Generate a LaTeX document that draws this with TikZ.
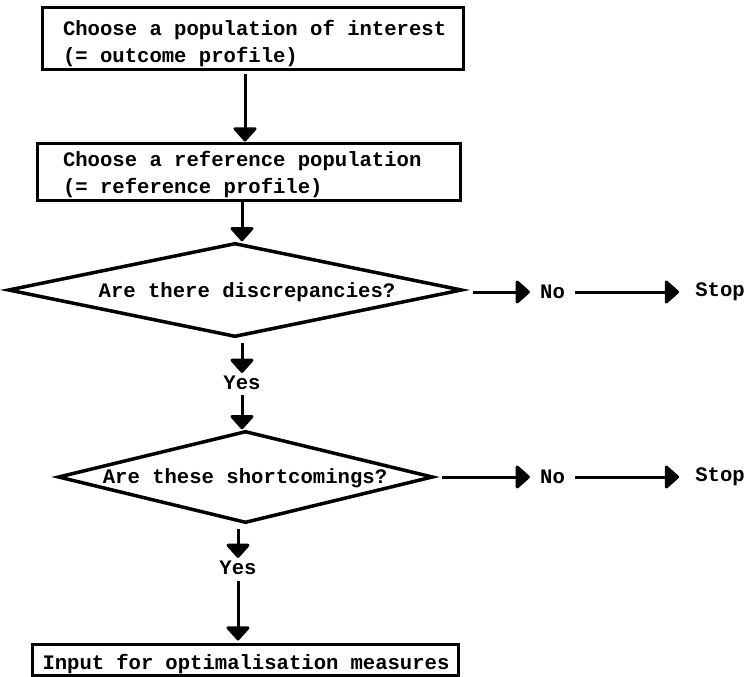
\documentclass[tikz,border=0pt]{standalone}
\usepackage{fontspec}
\setmainfont{Liberation Mono}
\usetikzlibrary{arrows.meta,shapes.geometric}
\begin{document}
\begin{tikzpicture}[x=1pt,y=-1pt,
  every node/.style={font=\fontsize{20.6}{27}\selectfont\bfseries},
  boxnode/.style={draw, line width=3pt, rectangle, align=left, inner xsep=10.5pt, inner ysep=0pt},
  dia/.style={draw, line width=3.5pt, diamond, inner sep=0pt},
  lbl/.style={inner xsep=10pt, inner ysep=3pt},
  stopl/.style={inner xsep=16pt, inner ysep=3pt},
  arr/.style={line width=3pt, -{Triangle[width=26pt,length=15pt,round]}}]
\useasboundingbox (0,0) rectangle (745,677);
\fill[white] (0,0) rectangle (745,677);

\node[boxnode, text width=400pt, minimum height=62pt] (b1) at (252.5,39)
  {\spaceskip=0pt\xspaceskip=0pt\rule{0pt}{25pt}\hspace*{10.5pt}Choose a population of interest\\\hspace*{10.5pt}(= outcome profile)};
\node[boxnode, text width=402pt, minimum height=57pt] (b2) at (248.5,171.5)
  {\spaceskip=0pt\xspaceskip=0pt\rule{0pt}{21pt}\hspace*{15.5pt}Choose a reference population\\\hspace*{15.5pt}(= reference profile)};
\node[boxnode, text width=409pt, inner xsep=8.5pt, minimum height=31pt] (b3) at (245,659.5)
  {\spaceskip=0pt\xspaceskip=0pt\rule{0pt}{24pt}\hspace*{2pt}Input for optimalisation measures};

\node[dia, minimum width=454pt, minimum height=94pt] (d1) at (235,290) {};
\node (t1) at (247,292) {Are there discrepancies?};
\node[dia, minimum width=375pt, minimum height=92pt] (d2) at (245.5,477) {};
\node (t2) at (245,478) {Are these shortcomings?};

\node[lbl] (y1) at (242,383) {Yes};
\node[lbl] (y2) at (238,568) {Yes};
\node[lbl] (n1) at (552.5,292) {No};
\node[stopl] (s1) at (720,292) {Stop};
\node[lbl] (n2) at (552.5,477) {No};
\node[stopl] (s2) at (720,477) {Stop};

\coordinate (a1) at (245,0);
\coordinate (a2) at (242,0);
\coordinate (a3) at (238,0);

\draw[arr, shorten <=3pt] (b1.south -| a1) -- (b2.north -| a1);
\draw[arr] (b2.south -| a2) -- (d1.north -| a2);
\draw[arr, shorten <=4pt] (d1.south -| a2) -- (y1.north);
\draw[arr, shorten <=2pt] (y1.south) -- (d2.north -| y1.south);
\draw[arr, shorten <=4pt] (d2.south -| a3) -- (y2.north);
\draw[arr, shorten <=3pt, shorten >=2pt] (y2.south) -- (b3.north -| y2.south);

\draw[arr, shorten <=9pt] (d1.east |- n1.west) -- (n1.west);
\draw[arr] (n1.east) -- (s1.west);
\draw[arr, shorten <=7pt] (d2.east |- n2.west) -- (n2.west);
\draw[arr] (n2.east) -- (s2.west);
\end{tikzpicture}
\end{document}
